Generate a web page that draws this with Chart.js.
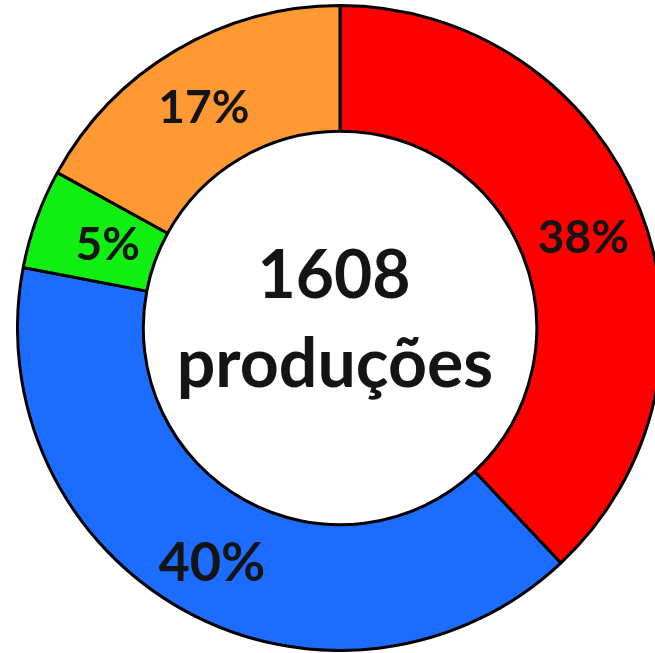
<!DOCTYPE html>
<html>
<head>
<meta charset="utf-8">
<script src="https://cdn.jsdelivr.net/npm/chart.js@4"></script>
<style>
  html, body { margin: 0; padding: 0; background: #fff; overflow: hidden; width: 655px; height: 653px; }
  #wrap { position: absolute; left: 16px; top: 4px; width: 648px; height: 648px; }
</style>
</head>
<body>
<div id="wrap"><canvas id="chart"></canvas></div>
<script>
const categories = ['A', 'B', 'C', 'D'];
const percents = [38, 40, 5, 17];
const colors = ['#ff0000', '#1c6dff', '#11ee11', '#ff9933'];
const total = 1608;
const centerLines = [String(total), 'produções'];

// per-slice label tweaks (font size, nudge) to sit like the original
const labelFont = [46, 54, 46, 46];
const labelNudge = [[2, 6], [-3, 8], [12, 5], [-4, 4]];

const labelsPlugin = {
    id: 'labels',
    afterDatasetsDraw(chart) {
        const ctx = chart.ctx;
        const meta = chart.getDatasetMeta(0);
        ctx.save();
        ctx.fillStyle = '#141414';
        ctx.textAlign = 'center';
        ctx.textBaseline = 'middle';
        meta.data.forEach((arc, i) => {
            const p = arc.tooltipPosition();
            ctx.font = 'bold ' + labelFont[i] + 'px Lato';
            ctx.fillText(percents[i] + '%', p.x + labelNudge[i][0], p.y + labelNudge[i][1]);
        });
        const cx = meta.data[0].x, cy = meta.data[0].y;
        ctx.textBaseline = 'alphabetic';
        ctx.font = 'bold 66px Lato';
        ctx.fillText(centerLines[0], cx - 6, cy - 30);
        ctx.font = 'bold 68px Lato';
        ctx.fillText(centerLines[1], cx - 5, cy + 59);
        ctx.restore();
    }
};

new Chart(document.getElementById('chart'), {
    type: 'doughnut',
    data: {
        labels: categories,
        datasets: [{
            data: percents,
            backgroundColor: colors,
            borderColor: '#000',
            borderWidth: 3,
            hoverOffset: 0
        }]
    },
    options: {
        responsive: true,
        maintainAspectRatio: false,
        animation: false,
        cutout: '61%',
        layout: { padding: 0 },
        plugins: { legend: { display: false }, tooltip: { enabled: false } }
    },
    plugins: [labelsPlugin]
});
</script>
</body>
</html>
